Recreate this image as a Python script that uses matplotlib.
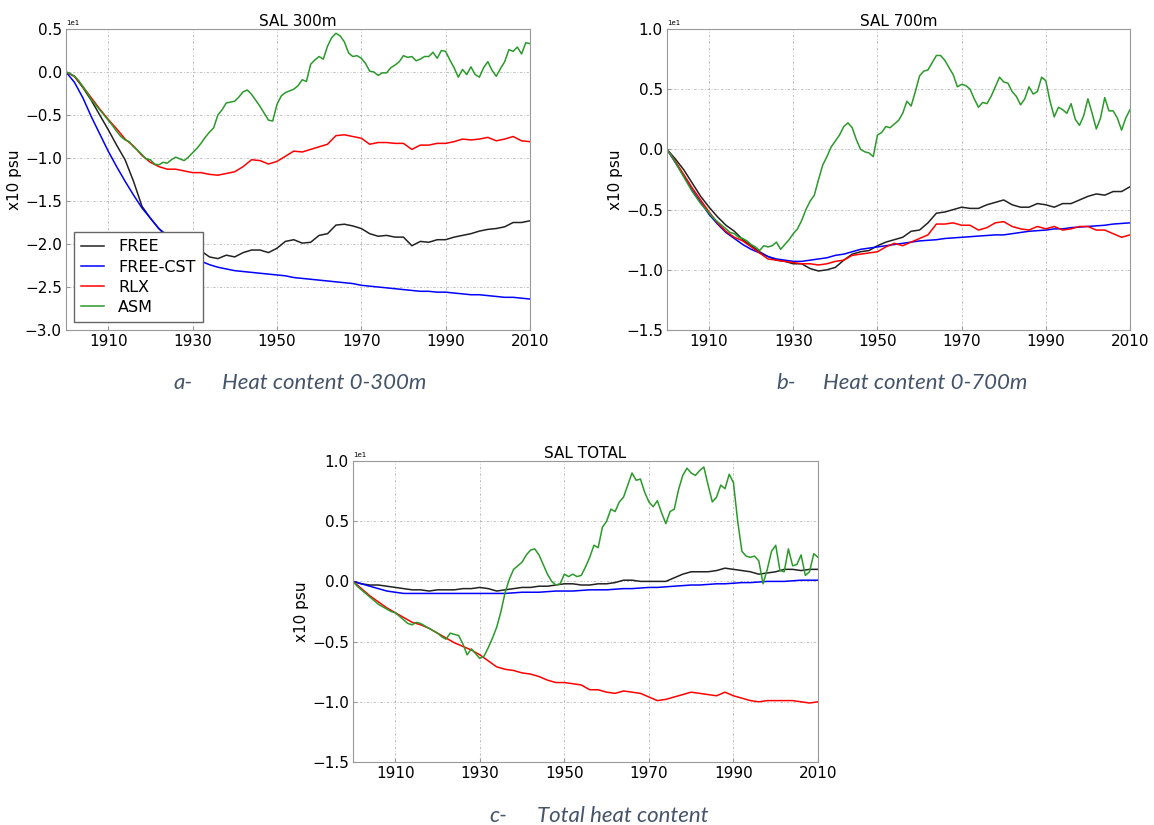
import numpy as np
import matplotlib
matplotlib.use("Agg")
import matplotlib.pyplot as plt
from matplotlib.ticker import ScalarFormatter

# values (tick units, the axes carry a 1e1 offset)
SCALE = 10

years2 = list(range(1900, 2011, 2))
years1 = list(range(1900, 2011))

# ---- SAL 300m ----
free_300 = [0.00, -0.05, -0.18, -0.33, -0.50, -0.67, -0.85, -1.02, -1.27, -1.56,
            -1.70, -1.82, -1.90, -1.95, -2.00, -2.05, -2.08, -2.15, -2.17, -2.13,
            -2.15, -2.10, -2.07, -2.07, -2.10, -2.05, -1.97, -1.95, -1.99, -1.98,
            -1.90, -1.88, -1.78, -1.77, -1.79, -1.82, -1.88, -1.91, -1.90, -1.92,
            -1.92, -2.02, -1.97, -1.98, -1.95, -1.95, -1.92, -1.90, -1.88, -1.85,
            -1.83, -1.82, -1.80, -1.75, -1.75, -1.73]
cst_300 = [0.00, -0.12, -0.30, -0.52, -0.72, -0.92, -1.10, -1.27, -1.43, -1.58,
           -1.70, -1.82, -1.92, -2.01, -2.09, -2.16, -2.20, -2.24, -2.27, -2.29,
           -2.31, -2.32, -2.33, -2.34, -2.35, -2.36, -2.37, -2.39, -2.40, -2.41,
           -2.42, -2.43, -2.44, -2.45, -2.46, -2.48, -2.49, -2.50, -2.51, -2.52,
           -2.53, -2.54, -2.55, -2.55, -2.56, -2.56, -2.57, -2.58, -2.59, -2.59,
           -2.60, -2.61, -2.62, -2.62, -2.63, -2.64]
rlx_300 = [0.00, -0.05, -0.17, -0.30, -0.43, -0.55, -0.66, -0.78, -0.86, -0.97,
           -1.05, -1.10, -1.13, -1.13, -1.15, -1.17, -1.17, -1.19, -1.20, -1.18,
           -1.16, -1.10, -1.02, -1.03, -1.07, -1.04, -0.98, -0.92, -0.93, -0.90,
           -0.87, -0.84, -0.74, -0.73, -0.75, -0.77, -0.84, -0.82, -0.82, -0.83,
           -0.83, -0.90, -0.85, -0.85, -0.83, -0.83, -0.81, -0.78, -0.79, -0.78,
           -0.76, -0.80, -0.78, -0.75, -0.80, -0.81]
asm_300 = [0.00, -0.02, -0.05, -0.10, -0.17, -0.24, -0.32, -0.38, -0.44, -0.50,
           -0.56, -0.62, -0.69, -0.75, -0.79, -0.81, -0.87, -0.91, -0.96, -1.01,
           -1.02, -1.07, -1.08, -1.05, -1.06, -1.02, -0.99, -1.01, -1.03, -0.99,
           -0.94, -0.89, -0.83, -0.76, -0.70, -0.65, -0.50, -0.44, -0.36, -0.35,
           -0.34, -0.29, -0.23, -0.21, -0.26, -0.33, -0.40, -0.48, -0.56, -0.57,
           -0.38, -0.28, -0.24, -0.22, -0.20, -0.16, -0.09, -0.11, 0.09, 0.14,
           0.18, 0.15, 0.30, 0.40, 0.45, 0.42, 0.35, 0.22, 0.18, 0.19,
           0.16, 0.10, 0.01, 0.00, -0.04, -0.01, -0.01, 0.05, 0.08, 0.12,
           0.19, 0.17, 0.18, 0.13, 0.15, 0.18, 0.18, 0.23, 0.16, 0.25,
           0.24, 0.14, 0.05, -0.06, 0.03, -0.03, 0.06, -0.03, -0.06, 0.05,
           0.12, 0.02, -0.05, 0.04, 0.12, 0.26, 0.24, 0.29, 0.21, 0.34,
           0.33]

# ---- SAL 700m ----
free_700 = [0.00, -0.08, -0.17, -0.28, -0.39, -0.48, -0.56, -0.63, -0.68, -0.75,
            -0.80, -0.85, -0.89, -0.92, -0.93, -0.95, -0.95, -0.99, -1.01, -1.00,
            -0.98, -0.92, -0.87, -0.85, -0.84, -0.80, -0.77, -0.75, -0.73, -0.68,
            -0.67, -0.61, -0.53, -0.52, -0.50, -0.48, -0.49, -0.49, -0.46, -0.44,
            -0.42, -0.46, -0.48, -0.48, -0.45, -0.46, -0.48, -0.45, -0.45, -0.42,
            -0.39, -0.37, -0.38, -0.35, -0.35, -0.31]
cst_700 = [0.00, -0.11, -0.22, -0.34, -0.44, -0.54, -0.62, -0.69, -0.74, -0.79,
           -0.83, -0.86, -0.89, -0.91, -0.92, -0.93, -0.93, -0.92, -0.91, -0.90,
           -0.88, -0.87, -0.85, -0.83, -0.82, -0.81, -0.80, -0.79, -0.78, -0.77,
           -0.76, -0.755, -0.75, -0.74, -0.735, -0.73, -0.725, -0.72, -0.715, -0.71,
           -0.71, -0.70, -0.69, -0.68, -0.675, -0.67, -0.66, -0.66, -0.65, -0.645,
           -0.64, -0.635, -0.63, -0.62, -0.615, -0.61]
rlx_700 = [0.00, -0.10, -0.21, -0.32, -0.42, -0.52, -0.61, -0.68, -0.73, -0.76,
           -0.81, -0.86, -0.91, -0.92, -0.93, -0.94, -0.95, -0.95, -0.96, -0.95,
           -0.93, -0.92, -0.88, -0.87, -0.86, -0.85, -0.81, -0.78, -0.80, -0.77,
           -0.74, -0.71, -0.62, -0.62, -0.61, -0.63, -0.63, -0.67, -0.65, -0.61,
           -0.60, -0.64, -0.66, -0.67, -0.64, -0.66, -0.64, -0.67, -0.66, -0.64,
           -0.64, -0.67, -0.67, -0.70, -0.73, -0.71]
asm_700 = [0.00, -0.05, -0.11, -0.17, -0.23, -0.29, -0.35, -0.40, -0.45, -0.49,
           -0.53, -0.57, -0.60, -0.63, -0.66, -0.69, -0.70, -0.73, -0.74, -0.76,
           -0.79, -0.81, -0.84, -0.80, -0.81, -0.80, -0.77, -0.83, -0.79, -0.75,
           -0.70, -0.66, -0.59, -0.50, -0.43, -0.38, -0.25, -0.13, -0.06, 0.02,
           0.07, 0.12, 0.19, 0.22, 0.18, 0.08, 0.00, -0.02, -0.03, -0.06,
           0.12, 0.14, 0.19, 0.18, 0.21, 0.24, 0.30, 0.40, 0.36, 0.48,
           0.61, 0.65, 0.66, 0.72, 0.78, 0.78, 0.74, 0.68, 0.62, 0.52,
           0.54, 0.53, 0.50, 0.42, 0.35, 0.39, 0.38, 0.44, 0.52, 0.60,
           0.56, 0.55, 0.48, 0.44, 0.37, 0.42, 0.52, 0.46, 0.48, 0.60,
           0.57, 0.40, 0.27, 0.35, 0.33, 0.30, 0.38, 0.25, 0.20, 0.28,
           0.42, 0.30, 0.17, 0.26, 0.43, 0.32, 0.32, 0.26, 0.16, 0.26,
           0.33]

# ---- SAL TOTAL ----
free_tot = [0.00, -0.02, -0.03, -0.03, -0.04, -0.05, -0.06, -0.07, -0.07, -0.08,
            -0.07, -0.07, -0.07, -0.06, -0.06, -0.05, -0.06, -0.08, -0.07, -0.06,
            -0.05, -0.05, -0.04, -0.04, -0.03, -0.02, -0.02, -0.03, -0.03, -0.02,
            -0.02, -0.01, 0.01, 0.01, 0.00, 0.00, 0.00, 0.00, 0.03, 0.06,
            0.08, 0.08, 0.08, 0.09, 0.11, 0.10, 0.09, 0.08, 0.06, 0.07,
            0.08, 0.10, 0.10, 0.09, 0.10, 0.10]
cst_tot = [0.00, -0.02, -0.04, -0.06, -0.08, -0.09, -0.10, -0.10, -0.10, -0.10,
           -0.10, -0.10, -0.10, -0.10, -0.10, -0.10, -0.10, -0.10, -0.10, -0.095,
           -0.09, -0.09, -0.09, -0.085, -0.08, -0.08, -0.08, -0.075, -0.07, -0.07,
           -0.07, -0.065, -0.06, -0.06, -0.055, -0.05, -0.05, -0.045, -0.04, -0.035,
           -0.03, -0.03, -0.025, -0.02, -0.02, -0.015, -0.01, -0.01, -0.005, 0.00,
           0.00, 0.00, 0.005, 0.01, 0.01, 0.01]
rlx_tot = [0.00, -0.06, -0.12, -0.17, -0.22, -0.26, -0.30, -0.34, -0.36, -0.39,
           -0.43, -0.47, -0.51, -0.54, -0.57, -0.61, -0.66, -0.71, -0.73, -0.74,
           -0.76, -0.77, -0.79, -0.82, -0.84, -0.84, -0.85, -0.86, -0.90, -0.90,
           -0.92, -0.93, -0.91, -0.92, -0.93, -0.96, -0.99, -0.98, -0.96, -0.94,
           -0.92, -0.93, -0.94, -0.95, -0.92, -0.95, -0.97, -0.99, -1.00, -0.99,
           -0.99, -0.99, -0.99, -1.00, -1.01, -1.00]
asm_tot = [0.00, -0.04, -0.07, -0.10, -0.13, -0.16, -0.19, -0.21, -0.23, -0.25,
           -0.26, -0.29, -0.32, -0.35, -0.36, -0.34, -0.35, -0.37, -0.39, -0.41,
           -0.43, -0.46, -0.48, -0.43, -0.44, -0.45, -0.52, -0.61, -0.56, -0.60,
           -0.64, -0.62, -0.55, -0.47, -0.38, -0.25, -0.09, 0.02, 0.10, 0.13,
           0.16, 0.22, 0.26, 0.27, 0.22, 0.14, 0.06, 0.00, -0.03, -0.02,
           0.06, 0.04, 0.06, 0.04, 0.05, 0.12, 0.20, 0.30, 0.28, 0.45,
           0.50, 0.60, 0.58, 0.66, 0.70, 0.80, 0.90, 0.84, 0.85, 0.74,
           0.66, 0.62, 0.67, 0.57, 0.48, 0.58, 0.60, 0.76, 0.88, 0.94,
           0.90, 0.88, 0.92, 0.95, 0.80, 0.66, 0.70, 0.80, 0.77, 0.89,
           0.82, 0.50, 0.25, 0.21, 0.20, 0.21, 0.17, -0.02, 0.10, 0.25,
           0.30, 0.09, 0.08, 0.27, 0.13, 0.14, 0.22, 0.05, 0.08, 0.23,
           0.20]

labels = ['FREE', 'FREE-CST', 'RLX', 'ASM']
colors = ['#222222', '#0000ff', '#ff0000', '#2a9a2a']

W, H = 1154, 825
fig = plt.figure(figsize=(W / 100, H / 100), dpi=100)


def add_axes(left, top, right, bottom):
    return fig.add_axes([left / W, 1 - bottom / H, (right - left) / W, (bottom - top) / H])


def style(ax, title, ylim):
    ax.set_xlim(1900, 2010)
    ax.set_xticks([1910, 1930, 1950, 1970, 1990, 2010])
    ax.set_ylim(ylim[0] * SCALE, ylim[1] * SCALE)
    ax.set_yticks(np.arange(ylim[0], ylim[1] + 0.01, 0.5) * SCALE)
    fmt = ScalarFormatter()
    fmt.set_powerlimits((0, 0))
    ax.yaxis.set_major_formatter(fmt)
    ax.yaxis.get_offset_text().set_fontsize(5)
    ax.grid(True, color='0.72', linestyle=(0, (3, 2, 1, 2)), linewidth=0.6)
    for s in ax.spines.values():
        s.set_color('0.6')
    ax.tick_params(direction='in', length=3, color='0.6', labelsize=11, pad=3)
    ax.set_title(title, fontsize=11, pad=1)
    ax.set_ylabel('x10 psu', fontsize=11, labelpad=2)


def draw(ax, free, cst, rlx, asm):
    series = [(years2, free), (years2, cst), (years2, rlx), (years1, asm)]
    for (x, y), lab, col in zip(series, labels, colors):
        ax.plot(x, np.array(y) * SCALE, color=col, lw=1.1, label=lab)


ax_a = add_axes(66, 29, 530, 330)
draw(ax_a, free_300, cst_300, rlx_300, asm_300)
style(ax_a, 'SAL 300m', (-3.0, 0.5))
leg = ax_a.legend(loc='lower left', fontsize=11.5, fancybox=False, framealpha=1,
                  handlelength=1.4, handletextpad=0.9, labelspacing=0.32,
                  borderaxespad=0.5, borderpad=0.45)
leg.get_frame().set_edgecolor('0.4')

ax_b = add_axes(667, 29, 1130, 330)
draw(ax_b, free_700, cst_700, rlx_700, asm_700)
style(ax_b, 'SAL 700m', (-1.5, 1.0))

ax_c = add_axes(353, 461, 818, 762)
draw(ax_c, free_tot, cst_tot, rlx_tot, asm_tot)
style(ax_c, 'SAL TOTAL', (-1.5, 1.0))

cap_color = '#44546a'
captions = [(173, 222, 383, 'a-', 'Heat content 0-300m'),
            (776, 823, 383, 'b-', 'Heat content 0-700m'),
            (489, 537, 816, 'c-', 'Total heat content')]
for x1, x2, y, tag, txt in captions:
    fig.text(x1 / W, 1 - y / H, tag, fontsize=16, style='italic', family='Lato',
             color=cap_color, va='center', ha='left')
    fig.text(x2 / W, 1 - y / H, txt, fontsize=16, style='italic', family='Lato',
             color=cap_color, va='center', ha='left')

fig.savefig('out.png', dpi=100)
